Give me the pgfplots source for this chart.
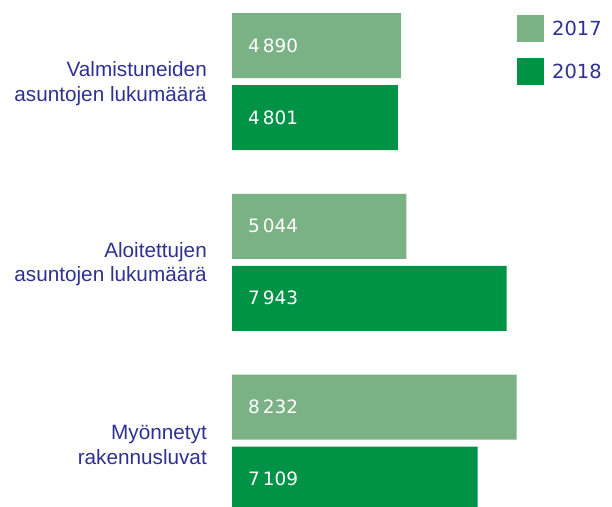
\documentclass[border=0pt]{standalone}
\usepackage{pgfplots}
\pgfplotsset{compat=1.18}
\usepackage{fontspec}
\setmainfont{Liberation Sans}
\newfontfamily\numfont{DejaVu Sans}
\definecolor{light}{HTML}{7BB285}
\definecolor{dark}{HTML}{009245}
\definecolor{navy}{HTML}{2E3192}
\pgfplotsset{sqlegend/.style={legend image code/.code={\fill[##1] (0bp,-13.5bp) rectangle (27bp,13.5bp);}}}
\begin{document}
\begin{tikzpicture}
\path[use as bounding box] (0,0) rectangle (612bp,507bp);
\begin{axis}[
  at={(232bp,0bp)}, anchor=south west,
  scale only axis, width=345.6bp, height=507bp,
  xmin=0, xmax=10000, ymin=-0.354, ymax=2.451,
  bar width=65bp,
  axis line style={draw=none},
  xtick=\empty,
  ytick={0,1,2},
  yticklabels={{Myönnetyt\\rakennusluvat},{Aloitettujen\\asuntojen lukumäärä},{Valmistuneiden\\asuntojen lukumäärä}},
  major tick length=0pt,
  yticklabel style={align=right, text=navy, inner sep=0pt, xshift=-25bp, yshift=-2bp, font=\fontsize{20.8}{24.5}\selectfont},
  legend style={at={(rel axis cs:0.8247,0.970)}, anchor=north west, draw=none, fill=none,
    inner sep=0pt, row sep=16bp, font=\numfont\fontsize{19.5}{24}\selectfont, text=navy,
    cells={anchor=west}, nodes={inner xsep=0pt},
    /tikz/every odd column/.append style={column sep=8bp}},
]
\addplot[xbar, fill=light, draw=none, bar shift=36bp, sqlegend]
  coordinates {(8232,0) (5044,1) (4890,2)};
\addlegendentry{2017}
\addplot[xbar, fill=dark, draw=none, bar shift=-36bp, sqlegend]
  coordinates {(7109,0) (7943,1) (4801,2)};
\addlegendentry{2018}
\addplot[draw=none, forget plot, nodes near coords, point meta=explicit symbolic,
  nodes near coords style={anchor=west, inner sep=0pt, xshift=16bp, yshift=36bp, text=white, font=\numfont\fontsize{18.5}{24}\selectfont}]
  coordinates {(0,0) [{8\,232}] (0,1) [{5\,044}] (0,2) [{4\,890}]};
\addplot[draw=none, forget plot, nodes near coords, point meta=explicit symbolic,
  nodes near coords style={anchor=west, inner sep=0pt, xshift=16bp, yshift=-36bp, text=white, font=\numfont\fontsize{18.5}{24}\selectfont}]
  coordinates {(0,0) [{7\,109}] (0,1) [{7\,943}] (0,2) [{4\,801}]};
\end{axis}
\end{tikzpicture}
\end{document}
